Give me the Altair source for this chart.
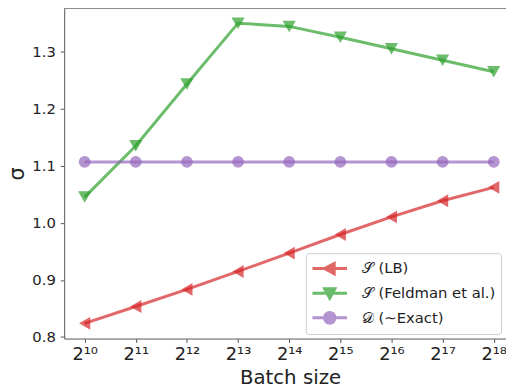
import altair as alt
import pandas as pd

exponents = [10, 11, 12, 13, 14, 15, 16, 17, 18]
tick_labels = ["2¹⁰", "2¹¹", "2¹²", "2¹³", "2¹⁴", "2¹⁵", "2¹⁶", "2¹⁷", "2¹⁸"]
series_names = ["𝒮 (LB)", "𝒮 (Feldman et al.)", "𝒟 (∼Exact)"]
lb_values = [0.824, 0.8535, 0.8834, 0.9148, 0.947, 0.9795, 1.0103, 1.0385, 1.062]
feldman_values = [1.045, 1.1348, 1.243, 1.3494, 1.3437, 1.3247, 1.3045, 1.2845, 1.2643]
exact_values = [1.1065] * 9
colors = ["#d62728", "#2ca02c", "#9467bd"]
builtin_shapes = ["triangle-left", "triangle-down", "circle"]
builtin_sizes = [170, 180, 143]
legend_shapes = [
    "M-2,0H2M-0.6,0L0.52,-0.6L0.52,0.6Z",
    "M-2,0H2M-0.6,-0.52L0.6,-0.52L0,0.58Z",
    "M-2,0H2M0.62,0A0.62,0.62,0,1,1,-0.62,0A0.62,0.62,0,1,1,0.62,0Z",
]

rows = []
for name, vals in zip(series_names, [lb_values, feldman_values, exact_values]):
    for e, v in zip(exponents, vals):
        rows.append({"exp": e, "sigma": v, "series": name})
df = pd.DataFrame(rows)

FONT = "DejaVu Sans"
W, H = 448, 335

label_expr = "[" + ",".join("'%s'" % t for t in tick_labels) + "][datum.value - 10]"

x_enc = alt.X(
    "exp:Q",
    scale=alt.Scale(domain=[9.6, 18.24], nice=False, zero=False),
    axis=alt.Axis(
        values=exponents, labelExpr=label_expr, title="Batch size",
        labelFontSize=18, titleFontSize=20, labelPadding=3, tickSize=4,
        titleX=229, titleY=45.5, titleBaseline="alphabetic",
    ),
)
y_enc = alt.Y(
    "sigma:Q",
    scale=alt.Scale(domain=[0.7974, 1.3756], nice=False, zero=False),
    axis=alt.Axis(
        values=[0.8, 0.9, 1.0, 1.1, 1.2, 1.3], format=".1f", title="σ",
        labelFontSize=15, titleFontSize=21, labelPadding=5, tickSize=4,
        titleX=-47, titleBaseline="middle", titleAngle=270,
    ),
)
# reversed order keeps this scale's legend separate from the visible one
color_scale = alt.Scale(domain=series_names[::-1], range=colors[::-1])

base = alt.Chart(df)

lines = base.mark_line(strokeWidth=3, opacity=0.7).encode(
    x=x_enc, y=y_enc,
    color=alt.Color("series:N", scale=color_scale, legend=None),
)

point_layers = []
for name, shp, sz in zip(series_names, builtin_shapes, builtin_sizes):
    point_layers.append(
        base.transform_filter(alt.datum.series == name)
        .mark_point(filled=True, shape=shp, size=sz, opacity=0.7)
        .encode(
            x=x_enc, y=y_enc,
            color=alt.Color("series:N", scale=color_scale, legend=None),
        )
    )

leg = alt.Legend(
    title=None, orient="none", legendX=245, legendY=248.5,
    labelFontSize=15, labelFont=FONT, labelColor="#222222",
    symbolSize=306, symbolOffset=8.75, labelOffset=22,
    symbolStrokeWidth=3, symbolOpacity=0.7,
    rowPadding=2, padding=5,
    fillColor="rgba(255,255,255,0.8)", strokeColor="#cccccc",
    cornerRadius=3,
)

legend_layer = base.mark_point(
    filled=True, opacity=0.7, size=0, strokeWidth=3
).encode(
    x=x_enc, y=y_enc,
    fill=alt.Fill("series:N", scale=alt.Scale(domain=series_names, range=colors),
                  sort=series_names, legend=leg),
    stroke=alt.Stroke("series:N", scale=alt.Scale(domain=series_names, range=colors),
                      sort=series_names, legend=leg),
    shape=alt.Shape("series:N", scale=alt.Scale(domain=series_names, range=legend_shapes),
                    sort=series_names, legend=leg),
)

frame_top = alt.Chart(pd.DataFrame({"v": [0]})).mark_rule(color="#555555", strokeWidth=1).encode(
    x=alt.value(0), x2=alt.value(W), y=alt.value(0)
)

chart = alt.layer(lines, *point_layers, legend_layer, frame_top).properties(
    width=W, height=H,
    padding={"left": 57, "top": -2.5, "right": 0, "bottom": 51},
    autosize=alt.AutoSizeParams(type="none"),
).configure(font=FONT).configure_view(stroke=None).configure_axis(
    grid=False, domainColor="#555555", tickColor="#555555", domainWidth=1,
    labelFont=FONT, titleFont=FONT, labelColor="#222222", titleColor="#222222",
    titleFontWeight="normal",
)

chart.save("out.html", embed_options={"renderer": "svg", "actions": False})
